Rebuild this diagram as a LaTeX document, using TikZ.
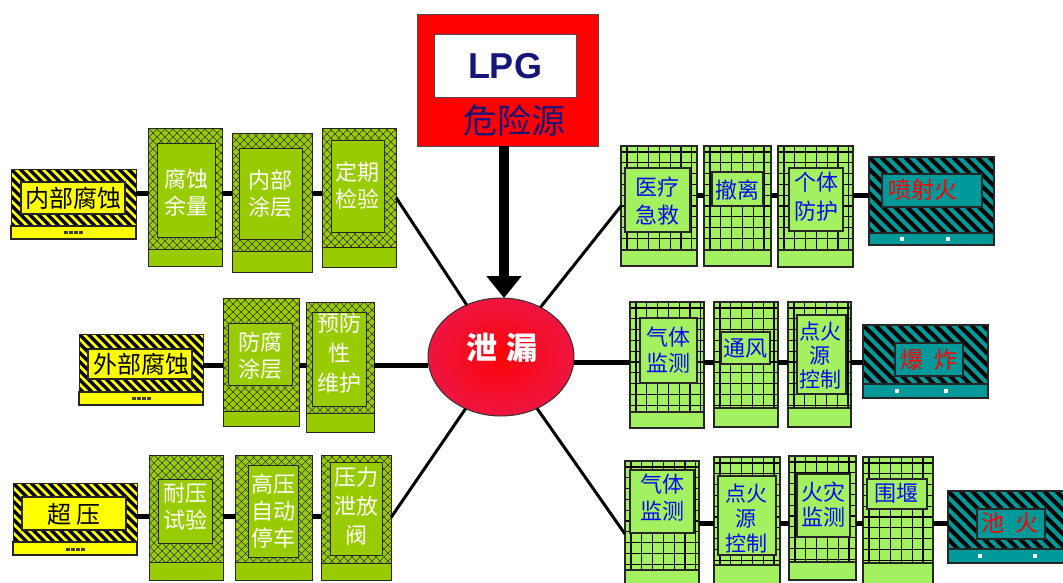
\documentclass[tikz,border=0pt]{standalone}
\usepackage{fontspec}
\newfontfamily\cjk{Noto Sans CJK SC}
\newfontfamily\lat{Liberation Sans}
\usetikzlibrary{shapes.geometric,arrows.meta}
\definecolor{cg}{HTML}{99CC00}
\definecolor{lg}{HTML}{A3F060}
\definecolor{tl}{HTML}{009999}
\definecolor{yl}{HTML}{FFFF00}
\definecolor{bl}{HTML}{0A0AF0}
\definecolor{nv}{HTML}{16167A}
\definecolor{lk}{HTML}{EE1540}
\newcommand\bx[6]{\node[#1, minimum width={(#5)-(#3)}, minimum height={(#6)-(#4)}] (#2) at ({((#3)+(#5))/2},{((#4)+(#6))/2}) {};}
\newcommand\ymark[2]{\foreach \i in {0,...,3} \fill[black!75] ({#1-9+\i*5},{#2-1.5}) rectangle ++(3.5,3);}
\newcommand\tmark[2]{\fill[white] ({#1-2},{#2-2}) rectangle ({#1+2},{#2+2});}
\tikzset{
 base/.style={inner sep=0pt, outer sep=0pt},
 crossbox/.style={base, draw=black!85, line width=1pt, fill=cg,
   path picture={\foreach \k in {-20,...,20} {
     \draw[black!80, line width=0.5pt] ([xshift=\k*8pt]path picture bounding box.south west) -- ++(250pt,250pt);
     \draw[black!80, line width=0.5pt] ([xshift=\k*8pt]path picture bounding box.south east) -- ++(-250pt,250pt);}}},
 gridbox/.style={base, draw=black!85, line width=1.2pt, fill=lg,
   path picture={\foreach \k in {0,...,14} {
     \draw[black, line width=1.1pt] ([xshift=\k*10.8pt+6pt]path picture bounding box.north west) -- ++(0,-300pt);
     \draw[black, line width=1.1pt] ([yshift=-\k*10.8pt-6pt]path picture bounding box.north west) -- ++(300pt,0);}}},
 yhaz/.style={base, draw=black!85, line width=1pt, fill=yl,
   path picture={\foreach \k in {-20,...,20}
     \draw[black, line width=3.2pt] ([xshift=\k*9pt]path picture bounding box.north west) -- ++(120pt,-120pt);}},
 thaz/.style={base, draw=black!85, line width=1.2pt, fill=tl,
   path picture={\foreach \k in {-20,...,20}
     \draw[black, line width=4.2pt] ([xshift=\k*12pt]path picture bounding box.north west) -- ++(120pt,-120pt);}},
 cin/.style={base, draw=black!85, line width=1pt, fill=cg},
 gin/.style={base, draw=black!85, line width=1.3pt, fill=lg},
 yin/.style={base, draw=black!85, line width=1.2pt, fill=yl},
 tin/.style={base, draw=black!85, line width=1.2pt, fill=tl},
 txt/.style={inner sep=0pt, align=center, font=\cjk\fontsize{22}{27}\selectfont},
 wtxt/.style={txt, text=white},
 btxt/.style={txt, text=bl},
 ktxt/.style={txt, text=black, font=\cjk\fontsize{24}{27}\selectfont},
 rtxt/.style={txt, text=red, font=\cjk\fontsize{23}{27}\selectfont},
 conn/.style={line width=5pt, black},
 spoke/.style={line width=3pt, black},
}
\begin{document}
\begin{tikzpicture}[x=1pt,y=-1pt]
\useasboundingbox (0,0) rectangle (1063,582);
\fill[white] (0,0) rectangle (1063,582);
\clip (0,0) rectangle (1063,582);
% source
\bx{base,draw=black!70,line width=1pt,fill=red}{src}{417}{14}{598}{146}
\bx{base,draw=black!70,line width=1pt,fill=white}{srci}{434}{34}{576}{97}
\node[inner sep=0pt, text=nv, font=\lat\bfseries\fontsize{36}{40}\selectfont] (lpg) at (505,66) {LPG};
\node[inner sep=0pt, text=nv, font=\cjk\fontsize{34}{38}\selectfont] (wxy) at (514,121) {危险源};
% leak
\node[ellipse, base, minimum width=146, minimum height=118, draw=black!80, line width=1pt, inner color=red!85!lk, outer color=lk] (leak) at (501,357) {};
\node[inner sep=0pt, text=white, font=\cjk\bfseries\fontsize{31}{34}\selectfont] (leakt) at (502,348) {泄\hspace{9pt}漏};
\coordinate (ax) at (504,0);
\draw[line width=10pt, -{Triangle[width=34pt,length=22pt]}] (src.south -| ax) -- (leak.north -| ax);
% ---------- left row 1
\bx{yhaz}{L1a}{11}{169}{136}{239}
\bx{yin}{L1ai}{21}{182}{125}{214}
\bx{yin}{L1ab}{11}{226}{136}{239}
\ymark{73}{232}
\node[ktxt] (L1at) at (73,198) {内部腐蚀};
\bx{crossbox}{L1b}{148}{128}{222}{266}
\bx{cin}{L1bi}{157}{143}{215}{237}
\bx{cin}{L1bb}{148}{249}{222}{266}
\node[wtxt] (L1bt) at (186,193) {腐蚀\\余量};
\bx{crossbox}{L1c}{232}{133}{312}{272}
\bx{cin}{L1ci}{239}{148}{302}{239}
\bx{cin}{L1cb}{232}{251}{312}{272}
\node[wtxt] (L1ct) at (270,194) {内部\\涂层};
\bx{crossbox}{L1d}{322}{128}{396}{267}
\bx{cin}{L1di}{331}{140}{384}{232}
\bx{cin}{L1db}{322}{247}{396}{267}
\node[wtxt] (L1dt) at (357,186) {定期\\检验};
% ---------- left row 2
\bx{yhaz}{L2a}{79}{334}{203}{405}
\bx{yin}{L2ai}{88}{349}{192}{379}
\bx{yin}{L2ab}{79}{392}{203}{405}
\ymark{141}{398}
\node[ktxt] (L2at) at (141,364) {外部腐蚀};
\bx{crossbox}{L2b}{223}{298}{299}{426}
\bx{cin}{L2bi}{228}{323}{292}{385}
\bx{cin}{L2bb}{223}{411}{299}{426}
\node[wtxt] (L2bt) at (260,356) {防腐\\涂层};
\bx{crossbox}{L2c}{306}{302}{374}{432}
\bx{cin}{L2ci}{312}{312}{366}{406}
\bx{cin}{L2cb}{306}{413}{374}{432}
\node[wtxt, font=\cjk\fontsize{22}{30}\selectfont] (L2ct) at (339,353) {预防\\性\\维护};
% ---------- left row 3
\bx{yhaz}{L3a}{13}{483}{137}{555}
\bx{yin}{L3ai}{22}{497}{126}{530}
\bx{yin}{L3ab}{13}{542}{137}{555}
\ymark{75}{549}
\node[ktxt] (L3at) at (74,514) {超\hspace{5pt}压};
\bx{crossbox}{L3b}{149}{455}{223}{580}
\bx{cin}{L3bi}{158}{479}{212}{543}
\bx{cin}{L3bb}{149}{562}{223}{580}
\node[wtxt] (L3bt) at (185,507) {耐压\\试验};
\bx{crossbox}{L3c}{235}{455}{312}{580}
\bx{cin}{L3ci}{248}{465}{298}{557}
\bx{cin}{L3cb}{235}{562}{312}{580}
\node[wtxt] (L3ct) at (273,511) {高压\\自动\\停车};
\bx{crossbox}{L3d}{321}{455}{391}{580}
\bx{cin}{L3di}{330}{462}{382}{555}
\bx{cin}{L3db}{321}{563}{391}{580}
\node[wtxt, font=\cjk\fontsize{22}{29}\selectfont] (L3dt) at (356,506) {压力\\泄放\\阀};
% ---------- right row 1
\bx{gridbox}{R1a}{621}{146}{697}{266}
\bx{gin}{R1ai}{625}{168}{690}{232}
\bx{gin}{R1ab}{621}{250}{697}{266}
\node[btxt, font=\cjk\fontsize{22}{28}\selectfont] (R1at) at (657,201) {医疗\\急救};
\bx{gridbox}{R1b}{704}{146}{771}{266}
\bx{gin}{R1bi}{712}{172}{763}{206}
\bx{gin}{R1bb}{704}{250}{771}{266}
\node[btxt] (R1bt) at (737,190) {撤离};
\bx{gridbox}{R1c}{778}{146}{853}{267}
\bx{gin}{R1ci}{789}{168}{843}{231}
\bx{gin}{R1cb}{778}{250}{853}{267}
\node[btxt, font=\cjk\fontsize{22}{29}\selectfont] (R1ct) at (816,197) {个体\\防护};
\bx{thaz}{R1d}{869}{157}{994}{245}
\bx{tin}{R1di}{882}{174}{982}{207}
\bx{tin}{R1db}{869}{233}{994}{245}
\tmark{902}{239}\tmark{948}{239}
\node[rtxt] (R1dt) at (923,190) {喷射火};
% ---------- right row 2
\bx{gridbox}{R2a}{630}{302}{704}{428}
\bx{gin}{R2ai}{640}{318}{697}{383}
\bx{gin}{R2ab}{630}{412}{704}{428}
\node[btxt, font=\cjk\fontsize{22}{26}\selectfont] (R2at) at (668,350) {气体\\监测};
\bx{gridbox}{R2b}{714}{302}{778}{427}
\bx{gin}{R2bi}{721}{332}{770}{364}
\bx{gin}{R2bb}{714}{408}{778}{427}
\node[btxt] (R2bt) at (745,349) {通风};
\bx{gridbox}{R2c}{788}{302}{851}{427}
\bx{gin}{R2ci}{797}{315}{846}{394}
\bx{gin}{R2cb}{788}{408}{851}{427}
\node[btxt, font=\cjk\fontsize{21}{24}\selectfont] (R2ct) at (820,356) {点火\\源\\控制};
\bx{thaz}{R2d}{863}{325}{988}{398}
\bx{tin}{R2di}{895}{343}{963}{376}
\bx{tin}{R2db}{863}{384}{988}{398}
\tmark{897}{391}\tmark{946}{391}
\node[rtxt] (R2dt) at (929,360) {爆\hspace{12pt}炸};
% ---------- right row 3
\bx{gridbox}{R3a}{625}{461}{699}{600}
\bx{gin}{R3ai}{630}{470}{694}{533}
\bx{gin}{R3ab}{625}{570}{699}{600}
\node[btxt] (R3at) at (662,498) {气体\\监测};
\bx{gridbox}{R3b}{714}{457}{780}{600}
\bx{gin}{R3bi}{718}{476}{776}{555}
\bx{gin}{R3bb}{714}{565}{780}{600}
\node[btxt, font=\cjk\fontsize{21}{25}\selectfont] (R3bt) at (746,518) {点火\\源\\控制};
\bx{gridbox}{R3c}{789}{456}{856}{580}
\bx{gin}{R3ci}{797}{474}{850}{537}
\bx{gin}{R3cb}{789}{562}{856}{580}
\node[btxt, font=\cjk\fontsize{22}{25}\selectfont] (R3ct) at (823,505) {火灾\\监测};
\bx{gridbox}{R3d}{863}{457}{933}{600}
\bx{gin}{R3di}{867}{479}{927}{509}
\bx{gin}{R3db}{863}{563}{933}{600}
\node[btxt] (R3dt) at (896,493) {围堰};
\bx{thaz}{R3e}{948}{491}{1068}{563}
\bx{tin}{R3ei}{977}{509}{1045}{539}
\bx{tin}{R3eb}{948}{549}{1068}{563}
\tmark{980}{556}\tmark{1035}{556}
\node[rtxt] (R3et) at (1010,523) {池\hspace{12pt}火};
% ---------- connectors
\coordinate (rl1) at (0,193);
\coordinate (rl2) at (0,365);
\coordinate (rl3) at (0,516);
\coordinate (rr1) at (0,195);
\coordinate (rr2) at (0,362);
\coordinate (rr3) at (0,523);
\coordinate (s6) at (0,534);
\draw[conn] (L1a.east |- rl1) -- (L1b.west |- rl1);
\draw[conn] (L1b.east |- rl1) -- (L1c.west |- rl1);
\draw[conn] (L1c.east |- rl1) -- (L1d.west |- rl1);
\draw[conn] (L2a.east |- rl2) -- (L2b.west |- rl2);
\draw[conn] (L2b.east |- rl2) -- (L2c.west |- rl2);
\draw[conn] (L2c.east |- rl2) -- (leak.west |- rl2);
\draw[conn] (L3a.east |- rl3) -- (L3b.west |- rl3);
\draw[conn] (L3b.east |- rl3) -- (L3c.west |- rl3);
\draw[conn] (L3c.east |- rl3) -- (L3d.west |- rl3);
\draw[conn] (R1a.east |- rr1) -- (R1b.west |- rr1);
\draw[conn] (R1b.east |- rr1) -- (R1c.west |- rr1);
\draw[conn] (R1c.east |- rr1) -- (R1d.west |- rr1);
\draw[conn] (leak.east |- rr2) -- (R2a.west |- rr2);
\draw[conn] (R2a.east |- rr2) -- (R2b.west |- rr2);
\draw[conn] (R2b.east |- rr2) -- (R2c.west |- rr2);
\draw[conn] (R2c.east |- rr2) -- (R2d.west |- rr2);
\draw[conn] (R3a.east |- rr3) -- (R3b.west |- rr3);
\draw[conn] (R3b.east |- rr3) -- (R3c.west |- rr3);
\draw[conn] (R3c.east |- rr3) -- (R3d.west |- rr3);
\draw[conn] (R3d.east |- rr3) -- (R3e.west |- rr3);
\draw[spoke] (L1d.east) -- (leak);
\draw[spoke] (L3d.east) -- (leak);
\draw[spoke] (leak) -- (R1a.west);
\draw[spoke] (leak) -- (R3a.west |- s6);
\end{tikzpicture}
\end{document}
